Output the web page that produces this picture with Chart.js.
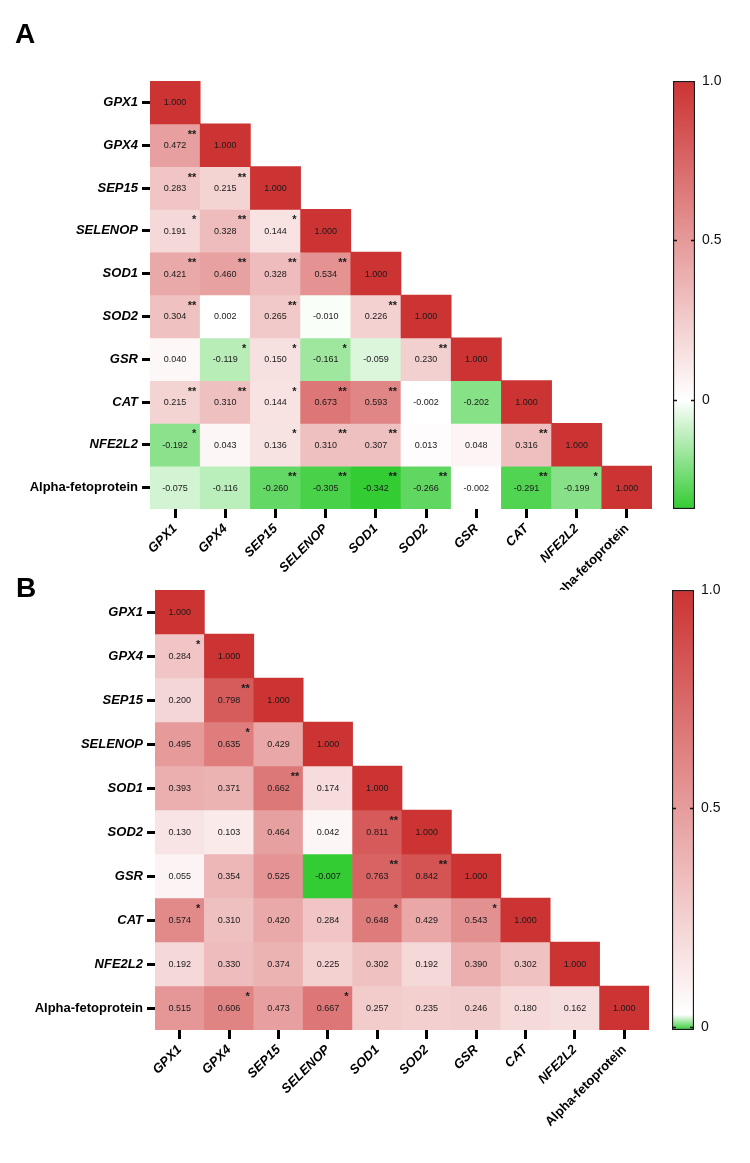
<!DOCTYPE html>
<html>
<head>
<meta charset="utf-8">
<script src="https://cdn.jsdelivr.net/npm/chart.js@4.4.1/dist/chart.umd.min.js"></script>
<style>
  body { margin: 0; background: #fff; }
  #wrap { position: relative; width: 750px; height: 1163px; overflow: hidden; }
  .box { position: absolute; }
  .tag { position: absolute; font: bold 28px Arial, "Liberation Sans", sans-serif; line-height: 28px; color: #000; }
</style>
</head>
<body>
<div id="wrap">
  <div class="box" style="left:0;top:0;width:660px;height:590px"><canvas id="heatA"></canvas></div>
  <div class="box" style="left:660px;top:0;width:90px;height:590px"><canvas id="barA"></canvas></div>
  <div class="box" style="left:0;top:570px;width:660px;height:593px"><canvas id="heatB"></canvas></div>
  <div class="box" style="left:660px;top:570px;width:90px;height:593px"><canvas id="barB"></canvas></div>
  <div class="tag" style="left:15px;top:20px">A</div>
  <div class="tag" style="left:16px;top:574px">B</div>
</div>
<script>
const genes = ['GPX1', 'GPX4', 'SEP15', 'SELENOP', 'SOD1', 'SOD2', 'GSR', 'CAT', 'NFE2L2', 'Alpha-fetoprotein'];

// panel A: lower triangle, row by row
const corrA = [
  [1.000],
  [0.472, 1.000],
  [0.283, 0.215, 1.000],
  [0.191, 0.328, 0.144, 1.000],
  [0.421, 0.460, 0.328, 0.534, 1.000],
  [0.304, 0.002, 0.265, -0.010, 0.226, 1.000],
  [0.040, -0.119, 0.150, -0.161, -0.059, 0.230, 1.000],
  [0.215, 0.310, 0.144, 0.673, 0.593, -0.002, -0.202, 1.000],
  [-0.192, 0.043, 0.136, 0.310, 0.307, 0.013, 0.048, 0.316, 1.000],
  [-0.075, -0.116, -0.260, -0.305, -0.342, -0.266, -0.002, -0.291, -0.199, 1.000]
];
const starsA = [
  [''],
  ['**', ''],
  ['**', '**', ''],
  ['*', '**', '*', ''],
  ['**', '**', '**', '**', ''],
  ['**', '', '**', '', '**', ''],
  ['', '*', '*', '*', '', '**', ''],
  ['**', '**', '*', '**', '**', '', '', ''],
  ['*', '', '*', '**', '**', '', '', '**', ''],
  ['', '', '**', '**', '**', '**', '', '**', '*', '']
];

// panel B
const corrB = [
  [1.000],
  [0.284, 1.000],
  [0.200, 0.798, 1.000],
  [0.495, 0.635, 0.429, 1.000],
  [0.393, 0.371, 0.662, 0.174, 1.000],
  [0.130, 0.103, 0.464, 0.042, 0.811, 1.000],
  [0.055, 0.354, 0.525, -0.007, 0.763, 0.842, 1.000],
  [0.574, 0.310, 0.420, 0.284, 0.648, 0.429, 0.543, 1.000],
  [0.192, 0.330, 0.374, 0.225, 0.302, 0.192, 0.390, 0.302, 1.000],
  [0.515, 0.606, 0.473, 0.667, 0.257, 0.235, 0.246, 0.180, 0.162, 1.000]
];
const starsB = [
  [''],
  ['*', ''],
  ['', '**', ''],
  ['', '*', '', ''],
  ['', '', '**', '', ''],
  ['', '', '', '', '**', ''],
  ['', '', '', '', '**', '**', ''],
  ['*', '', '', '', '*', '', '*', ''],
  ['', '', '', '', '', '', '', '', ''],
  ['', '*', '', '*', '', '', '', '', '', '']
];

const barTicks = [0, 0.5, 1];

const FONT = 'Arial, "Liberation Sans", sans-serif';
Chart.defaults.font.family = FONT;
Chart.defaults.color = '#000';

const RED = [204, 51, 51];
const GREEN = [51, 204, 51];

function cellColor(v, vmin) {
  const end = v >= 0 ? RED : GREEN;
  const t = v >= 0 ? v : v / vmin;
  const c = end.map(e => Math.round(255 + (e - 255) * t));
  return 'rgb(' + c.join(',') + ')';
}

function labelFont(ctx) {
  const last = ctx.index === genes.length - 1;
  return { family: FONT, size: 13, weight: 'bold', style: last ? 'normal' : 'italic' };
}

function heatmap(id, corr, stars, pad, yWidth, xHeight) {
  const vmin = Math.min(...corr.flat());
  const datasets = corr.map((row, r) => ({
    data: genes.map((g, c) => c < row.length ? [r - 0.5, r + 0.5] : null),
    backgroundColor: genes.map((g, c) => c < row.length ? cellColor(row[c], vmin) : 'rgba(0,0,0,0)'),
    borderWidth: 0,
    barPercentage: 1,
    categoryPercentage: 1,
    grouped: false
  }));

  // numbers and significance marks on top of every cell
  const cellText = {
    id: 'cellText',
    afterDatasetsDraw(chart) {
      const ctx = chart.ctx;
      ctx.save();
      corr.forEach((row, r) => {
        const meta = chart.getDatasetMeta(r);
        row.forEach((v, c) => {
          const el = meta.data[c];
          const p = el.getCenterPoint();
          ctx.fillStyle = '#1a1a1a';
          ctx.font = '9px ' + FONT;
          ctx.textAlign = 'center';
          ctx.textBaseline = 'middle';
          ctx.fillText(v.toFixed(3), p.x, p.y + 0.5);
          if (stars[r][c]) {
            const top = Math.min(el.y, el.base);
            ctx.font = 'bold 11px ' + FONT;
            ctx.textAlign = 'right';
            ctx.textBaseline = 'alphabetic';
            ctx.fillText(stars[r][c], p.x + el.width / 2 - 4, top + 14);
          }
        });
      });
      ctx.restore();
    }
  };

  return new Chart(document.getElementById(id), {
    type: 'bar',
    data: { labels: genes, datasets: datasets },
    options: {
      responsive: true,
      maintainAspectRatio: false,
      animation: false,
      layout: { padding: pad },
      plugins: { legend: { display: false }, tooltip: { enabled: false } },
      scales: {
        x: {
          offset: true,
          grid: { offset: false, drawOnChartArea: false, tickLength: 9, tickWidth: 3, color: '#000' },
          border: { display: false },
          ticks: { autoSkip: false, maxRotation: 45, minRotation: 45, padding: 3, color: '#000', font: labelFont },
          afterFit: s => { s.height = xHeight; }
        },
        y: {
          type: 'linear',
          reverse: true,
          min: -0.5,
          max: genes.length - 0.5,
          afterBuildTicks: s => { s.ticks = genes.map((g, i) => ({ value: i })); },
          grid: { drawOnChartArea: false, tickLength: 8, tickWidth: 3, color: '#000' },
          border: { display: false },
          ticks: { callback: (v, i) => genes[i], padding: 4, color: '#000', font: labelFont },
          afterFit: s => { s.width = yWidth; }
        }
      }
    },
    plugins: [cellText]
  });
}

function colorbar(id, corr, pad, yWidth) {
  const vmin = Math.min(...corr.flat());

  function fill(c) {
    const chart = c.chart;
    const y = chart.scales.y;
    if (!chart.chartArea || !y) return 'rgba(0,0,0,0)';
    const g = chart.ctx.createLinearGradient(0, y.getPixelForValue(vmin), 0, y.getPixelForValue(1));
    g.addColorStop(0, cellColor(vmin, vmin));
    g.addColorStop(Math.max(-vmin / (1 - vmin), 0.035), '#ffffff');
    g.addColorStop(1, cellColor(1, vmin));
    return g;
  }

  // the little inner tick marks on both sides of the bar
  const innerTicks = {
    id: 'innerTicks',
    afterDatasetsDraw(chart) {
      const ctx = chart.ctx;
      const a = chart.chartArea;
      const y = chart.scales.y;
      ctx.save();
      ctx.strokeStyle = '#111';
      ctx.lineWidth = 1.5;
      barTicks.forEach(v => {
        if (v >= 1) return;
        const py = Math.round(y.getPixelForValue(v)) + 0.5;
        ctx.beginPath();
        ctx.moveTo(a.left, py); ctx.lineTo(a.left + 4, py);
        ctx.moveTo(a.right - 4, py); ctx.lineTo(a.right, py);
        ctx.stroke();
      });
      ctx.restore();
    }
  };

  return new Chart(document.getElementById(id), {
    type: 'bar',
    data: {
      labels: [''],
      datasets: [{
        data: [[vmin, 1]],
        backgroundColor: fill,
        borderColor: '#1a1a1a',
        borderWidth: 1.5,
        borderSkipped: false,
        barPercentage: 1,
        categoryPercentage: 1
      }]
    },
    options: {
      responsive: true,
      maintainAspectRatio: false,
      animation: false,
      layout: { padding: pad },
      plugins: { legend: { display: false }, tooltip: { enabled: false } },
      scales: {
        x: { display: false },
        y: {
          position: 'right',
          min: vmin,
          max: 1,
          afterBuildTicks: s => { s.ticks = barTicks.map(v => ({ value: v })); },
          grid: { display: false, drawTicks: false },
          border: { display: false },
          ticks: {
            callback: v => v === 0 ? '0' : v.toFixed(1),
            padding: 7,
            color: '#111',
            font: { size: 14 }
          },
          afterFit: s => { s.width = yWidth; }
        }
      }
    },
    plugins: [innerTicks]
  });
}

heatmap('heatA', corrA, starsA, { top: 81, right: 8, left: 0, bottom: 0 }, 150, 81);
colorbar('barA', corrA, { top: 81, left: 13, bottom: 81, right: 0 }, 55);
heatmap('heatB', corrB, starsB, { top: 20, right: 11, left: 0, bottom: 0 }, 155, 133);
colorbar('barB', corrB, { top: 20, left: 12, bottom: 133, right: 0 }, 56);
</script>
</body>
</html>
